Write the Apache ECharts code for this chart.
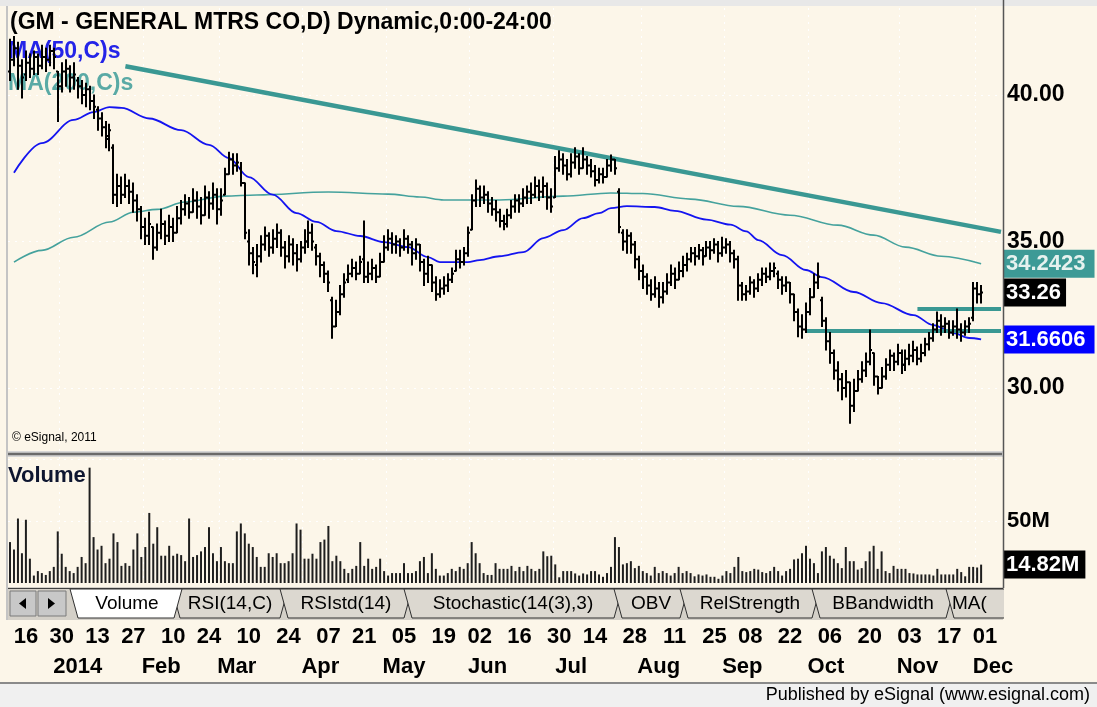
<!DOCTYPE html>
<html>
<head>
<meta charset="utf-8">
<script src="https://cdn.jsdelivr.net/npm/echarts@6/dist/echarts.min.js"></script>
<style>
  html, body { margin: 0; padding: 0; background: #fcf6e9; }
  #chart { width: 1097px; height: 707px; }
</style>
</head>
<body>
<div id="chart"></div>
<script>
// trading days Dec 10 2013 .. Dec 5 2014, exchange holidays skipped
const holidays = ['2013-12-25', '2014-01-01', '2014-01-20', '2014-02-17', '2014-04-18',
  '2014-05-26', '2014-07-04', '2014-09-01', '2014-11-27'];
const monthNames = ['2014', 'Feb', 'Mar', 'Apr', 'May', 'Jun', 'Jul', 'Aug', 'Sep', 'Oct', 'Nov', 'Dec'];

// daily bars
const opens = [40.8,41.2,41.6,41.0,40.7,41.1,40.9,41.3,41.0,41.3,
  41.2,41.5,40.8,40.3,40.8,40.9,40.6,40.5,40.3,40.0,
  40.2,39.8,39.5,39.2,38.9,38.5,38.2,36.6,36.9,36.6,
  36.9,36.7,36.4,36.1,35.5,35.2,35.5,34.8,35.3,35.6,
  35.2,35.5,35.3,35.8,36.1,36.3,36.0,36.4,36.2,35.9,
  36.5,36.3,36.6,36.1,36.6,37.3,37.8,37.6,37.5,37.0,
  35.0,34.6,34.2,34.5,34.9,35.2,34.8,35.1,35.3,34.8,
  34.5,34.9,34.6,34.4,34.8,35.0,35.3,34.8,34.5,34.2,
  33.9,33.0,32.1,32.6,33.2,33.7,33.9,34.1,33.9,34.4,
  33.8,33.9,34.1,33.8,34.3,34.8,35.1,34.9,35.0,34.8,
  35.1,34.9,34.6,34.9,34.3,33.9,34.2,33.6,33.2,33.4,
  33.5,33.7,34.0,34.4,34.3,34.6,35.4,36.4,36.8,36.5,
  36.6,36.3,36.1,36.0,35.7,35.6,35.9,36.2,36.4,36.3,
  36.5,36.7,36.6,36.9,36.7,36.9,36.5,36.5,37.5,37.8,
  37.6,37.3,37.7,37.9,37.5,37.8,37.6,37.4,37.1,37.3,
  37.2,37.6,37.8,36.7,35.3,35.0,35.2,34.9,34.4,34.0,
  33.8,33.5,33.2,33.4,33.1,33.3,33.6,33.9,33.7,34.0,
  34.2,34.4,34.6,34.5,34.7,34.5,34.8,34.7,34.9,34.6,
  34.8,34.9,34.6,34.4,33.5,33.2,33.3,33.6,33.4,33.7,
  33.9,33.8,34.0,33.9,33.7,33.5,33.6,33.2,32.6,32.1,
  32.0,32.6,33.1,33.6,33.0,32.3,31.6,31.2,30.6,30.3,
  30.0,30.2,29.4,29.9,30.3,30.6,30.9,31.2,30.4,30.0,
  30.4,30.8,31.1,30.9,31.2,30.8,31.0,31.1,31.3,31.0,
  31.2,31.5,31.7,32.0,32.3,32.1,32.2,31.9,32.1,32.0,
  31.9,32.1,32.4,33.4,33.2];
const highs = [41.9,42.0,41.8,41.2,41.5,41.4,41.5,41.4,41.7,41.6,
  41.7,41.6,40.8,41.1,41.2,41.0,41.1,40.6,40.5,40.4,
  40.3,40.0,39.6,39.4,39.1,39.0,38.3,37.3,37.2,37.3,
  37.1,37.0,36.6,36.2,35.8,36.0,35.5,35.6,36.1,35.7,
  35.9,35.8,36.2,36.4,36.6,36.5,36.8,36.7,36.5,36.9,
  36.7,37.0,36.8,36.8,37.5,38.05,38.0,38.0,37.7,37.0,
  35.4,34.8,34.9,35.2,35.5,35.3,35.4,35.6,35.4,35.0,
  35.2,35.1,34.9,35.0,35.4,35.7,35.6,34.9,34.6,34.3,
  34.0,33.1,33.0,33.5,33.9,34.2,34.4,34.3,34.5,35.7,
  34.3,34.4,34.2,34.6,35.2,35.4,35.3,35.2,35.1,35.4,
  35.2,35.0,35.1,34.9,34.4,34.5,34.2,33.8,33.7,33.8,
  33.9,34.1,34.7,34.7,34.8,35.5,36.6,37.1,36.9,36.9,
  36.7,36.5,36.4,36.1,35.9,36.1,36.4,36.6,36.6,36.8,
  36.9,37.0,37.2,37.1,37.2,37.0,36.8,37.9,38.1,38.0,
  37.8,38.0,38.2,38.0,38.2,37.9,37.8,37.6,37.5,37.5,
  37.8,37.95,37.8,36.8,35.4,35.4,35.3,35.0,34.5,34.2,
  33.9,33.7,33.8,33.6,33.6,33.9,34.2,34.1,34.3,34.5,
  34.6,34.8,34.8,34.9,34.8,35.0,35.0,35.1,35.0,35.15,
  35.1,35.0,34.7,34.5,33.6,33.5,33.8,33.7,33.9,34.1,
  34.1,34.27,34.27,34.0,33.8,33.8,33.6,33.2,32.7,32.5,
  32.9,33.4,33.9,34.27,33.1,32.4,31.9,31.3,30.9,30.5,
  30.6,30.2,30.3,30.6,30.9,31.2,31.98,31.2,30.4,30.7,
  31.0,31.3,31.2,31.5,31.3,31.3,31.5,31.6,31.4,31.5,
  31.7,31.9,32.2,32.6,32.5,32.4,32.3,32.3,32.7,32.2,
  32.3,32.4,33.6,33.6,33.5];
const lows = [40.5,41.0,40.2,39.9,40.5,40.6,40.7,40.7,40.9,40.8,
  41.0,40.9,39.1,40.1,40.3,40.1,40.2,39.9,39.7,39.6,
  39.5,39.2,38.8,38.6,38.2,38.1,36.3,36.2,36.3,36.5,
  36.3,36.0,35.7,35.1,34.9,34.9,34.4,34.7,35.1,34.9,
  35.0,35.0,35.3,35.6,35.9,35.8,36.0,35.8,35.6,35.9,
  35.8,36.1,35.6,35.9,36.6,37.3,37.3,37.4,36.9,35.1,
  34.2,33.9,33.8,34.3,34.7,34.5,34.6,34.8,34.5,34.1,
  34.3,34.2,34.0,34.3,34.6,34.8,34.7,34.2,33.8,33.6,
  33.3,31.7,32.1,32.5,33.1,33.6,33.8,33.7,33.9,33.6,
  33.6,33.7,33.6,33.8,34.3,34.7,34.6,34.6,34.5,34.7,
  34.6,34.2,34.4,34.0,33.5,33.6,33.3,33.0,33.1,33.2,
  33.3,33.6,34.0,34.1,34.2,34.5,35.4,36.2,36.2,36.3,
  36.0,35.9,35.7,35.5,35.4,35.5,35.8,36.0,36.0,36.2,
  36.3,36.3,36.5,36.4,36.5,36.1,36.0,36.5,37.4,37.3,
  37.1,37.2,37.5,37.3,37.5,37.3,37.2,36.9,37.0,37.0,
  37.2,37.4,37.3,35.3,34.7,34.6,34.6,34.1,33.7,33.4,
  33.2,33.0,33.1,32.76,32.9,33.2,33.5,33.4,33.7,33.8,
  34.0,34.3,34.2,34.4,34.2,34.5,34.4,34.6,34.3,34.5,
  34.6,34.3,34.1,33.0,33.0,33.0,33.2,33.1,33.3,33.5,
  33.6,33.7,33.8,33.4,33.2,33.3,32.9,32.3,31.75,31.7,
  31.9,32.5,33.1,33.4,32.1,31.3,30.85,30.3,29.9,29.6,
  29.7,28.8,29.2,29.9,30.2,30.4,30.8,30.1,29.8,30.0,
  30.3,30.6,30.6,30.8,30.5,30.6,30.8,30.9,30.8,30.9,
  31.1,31.3,31.6,31.9,31.8,31.9,31.7,31.8,31.7,31.6,
  31.8,31.9,32.3,32.9,32.9];
const closes = [41.2,41.6,41.0,40.6,41.1,40.9,41.3,41.0,41.3,41.2,
  41.5,41.3,40.3,40.8,40.9,40.6,40.7,40.3,40.0,40.2,
  39.8,39.6,39.2,38.9,38.6,38.8,36.6,36.9,36.6,36.9,
  36.7,36.4,36.1,35.5,35.2,35.6,34.8,35.3,35.6,35.2,
  35.5,35.3,35.8,36.1,36.3,36.0,36.4,36.2,35.9,36.5,
  36.3,36.6,36.1,36.4,37.3,37.8,37.6,37.7,37.0,35.3,
  34.6,34.3,34.5,34.9,35.2,34.8,35.1,35.3,34.8,34.5,
  34.9,34.6,34.4,34.8,35.0,35.3,35.0,34.5,34.2,33.9,
  33.6,32.1,32.6,33.2,33.6,33.9,34.1,33.9,34.3,33.8,
  33.9,34.1,33.8,34.3,34.8,35.1,34.9,35.0,34.8,35.1,
  34.9,34.6,34.9,34.3,33.9,34.2,33.6,33.2,33.4,33.5,
  33.7,33.9,34.4,34.3,34.6,35.3,36.4,36.8,36.5,36.6,
  36.3,36.1,36.0,35.7,35.6,35.9,36.2,36.4,36.3,36.5,
  36.7,36.6,36.9,36.7,36.9,36.5,36.2,37.5,37.8,37.6,
  37.3,37.7,37.9,37.5,37.8,37.6,37.4,37.1,37.3,37.2,
  37.6,37.8,37.5,35.5,35.0,35.2,34.9,34.4,34.0,33.8,
  33.5,33.2,33.4,33.1,33.3,33.6,33.9,33.7,34.0,34.2,
  34.4,34.6,34.5,34.7,34.5,34.8,34.7,34.9,34.6,34.8,
  34.9,34.6,34.4,33.5,33.2,33.3,33.6,33.4,33.7,33.9,
  33.8,34.0,34.1,33.7,33.5,33.6,33.2,32.6,32.1,32.0,
  32.6,33.1,33.6,33.8,32.3,31.6,31.2,30.6,30.3,30.0,
  30.2,29.4,29.9,30.3,30.6,30.9,31.3,30.4,30.0,30.4,
  30.8,31.1,30.9,31.2,30.8,31.0,31.1,31.3,31.0,31.2,
  31.5,31.7,32.0,32.3,32.1,32.2,31.9,32.1,32.0,31.9,
  32.1,32.2,33.4,33.2,33.26];
// volume, millions of shares
const volumes = [33,27,52,24,51,19.6,6,9.6,8,6.5,
  9.6,13,41.6,23.6,13,9.6,8,13,21,16,
  93,37,27,30,16,19.6,40,33,13.8,16,
  13.8,27,40,21,29,56.5,31.7,45,22,22,
  30,22,23.6,22.5,17.6,52,21,22.5,25.5,29,
  45,24,17.6,29,17.6,16,16,41.6,48,40,
  31.7,29,21,13,13,24,21,24,16,16,
  17.6,24,48,43,19.6,19.6,23.6,19.6,33,35,
  46,17.6,22,17.6,11.4,8,11.4,13.8,33,13.8,
  19.6,11.4,13,19.6,9.6,6,8,8,8,16,
  8,8,9.6,17.6,21,8,24,11.4,6,6,
  8,11.4,9.6,13,11.4,16,33,24,16,8,
  6.5,6.5,16,11.4,11.4,11.4,13.8,9.6,13,9.6,
  13.8,11.4,9.6,11.4,25.5,21.6,22,15,4.6,9.6,
  9.6,9.6,7.7,6,7.7,6.9,9.6,9.6,6.9,5,
  8,13,37,29,15,16,17.6,12,13.8,9.6,
  8,6,13,8,9.6,8,6,8,13,8,
  9.6,8,5.4,6.9,6,6.9,5,5,3.4,6,
  9.6,8,13,21,9.6,8.8,9.6,11.4,10.8,8.8,
  8,9.6,13,9.6,6,9.6,11.4,19,19.6,24,
  30,19.6,16,8,25.5,29,22,19.6,16,12,
  29,17.6,17.6,10.8,12,17.6,25.5,30,11.4,25.5,
  9.6,8,13.8,11.4,11.4,11.4,8,7.7,6.9,6.9,
  6.9,6.9,6,11.4,6.9,6.9,6.9,6.9,11.4,8.8,
  5.4,13,13,12.5,14.82];

// moving averages as drawn: [bar index, value]
const ma50 = [[1,37.35],[8,38.36],[16,39.15],[21,39.42],[25,39.59],[28,39.56],[35,39.2],[43,38.8],
  [50,38.3],[55,37.85],[60,37.2],[66,36.6],[72,35.97],[77,35.67],[82,35.36],[88,35.19],[94,34.98],
  [100,34.81],[105,34.47],[108,34.3],[115,34.3],[118,34.37],[123,34.5],[129,34.64],[134,35.12],
  [139,35.39],[144,35.8],[148,35.97],[151,36.14],[155,36.21],[162,36.18],[167,36.05],[175,35.75],
  [181,35.58],[185,35.35],[188,35.05],[194,34.54],[200,34.03],[204,33.79],[212,33.28],[219,32.9],
  [227,32.49],[232,32.15],[237,31.88],[241,31.71],[244,31.6606]];
const ma200 = [[1,34.3],[8,34.7],[16,35.15],[25,35.67],[31,36.0],[37,36.1],[44,36.35],[54,36.55],
  [62,36.59],[80,36.69],[95,36.62],[103,36.52],[109,36.42],[123,36.42],[139,36.55],[151,36.66],
  [159,36.64],[171,36.45],[183,36.2],[196,35.9],[208,35.56],[217,35.22],[225,34.81],[234,34.5],
  [244,34.2423]];
// drawn trend lines
const trendDown = [[29, 40.98], [249, 35.33]];
const supportLow = [[200, 31.95], [249, 31.95]];
const supportHigh = [[228, 32.70], [249, 32.70]];

const priceLabels = [30, 35, 40];
const volumeTicks = [50, 100];
const volumeLabels = [50];
const lastClose = 33.26, lastMa200 = 34.2423, lastMa50 = 31.6606, lastVolume = 14.82;

const FONT = '"Liberation Sans", Arial, sans-serif';

const dates = [];
for (let d = new Date(Date.UTC(2013, 11, 10)); d <= new Date(Date.UTC(2014, 11, 5)); d.setUTCDate(d.getUTCDate() + 1)) {
  const wd = d.getUTCDay();
  const s = d.toISOString().slice(0, 10);
  if (wd > 0 && wd < 6 && holidays.indexOf(s) < 0) dates.push(s);
}
const dayLabelIdx = {}, monthLabelIdx = {}, monthLineIdx = {};
const base = Date.UTC(2013, 11, 16);
dates.forEach((s, i) => {
  const t = Date.UTC(+s.slice(0, 4), +s.slice(5, 7) - 1, +s.slice(8, 10));
  const days = Math.round((t - base) / 86400000);
  if (days >= 0 && days % 14 === 0) dayLabelIdx[i] = true;
  if (i > 0 && s.slice(5, 7) !== dates[i - 1].slice(5, 7)) {
    monthLineIdx[i - 2] = true;
    monthLabelIdx[i + 2] = monthNames[+s.slice(5, 7) - 1];
  }
});

const bars = closes.map((c, i) => [i, opens[i], highs[i], lows[i], c]);

function renderBar(params, api) {
  const i = api.value(0);
  const hi = api.coord([i, api.value(2)]);
  const lo = api.coord([i, api.value(3)]);
  const op = api.coord([i, api.value(1)]);
  const cl = api.coord([i, api.value(4)]);
  const x = Math.round(hi[0]);
  const st = { stroke: '#000', lineWidth: 2 };
  return {
    type: 'group',
    children: [
      { type: 'line', shape: { x1: x, y1: hi[1] - 0.5, x2: x, y2: lo[1] + 0.5 }, style: st },
      { type: 'line', shape: { x1: x - 2, y1: op[1], x2: x, y2: op[1] }, style: st },
      { type: 'line', shape: { x1: x, y1: cl[1], x2: x + 2, y2: cl[1] }, style: st }
    ]
  };
}

// value tag at the right edge, hung on an invisible mark line
function tag(value, text, bg, fg, padRight) {
  return {
    silent: true, symbol: 'none', animation: false,
    lineStyle: { color: 'rgba(0,0,0,0)', width: 0.01 },
    label: {
      show: true, position: 'end', distance: 0, formatter: text,
      backgroundColor: bg, color: fg, padding: [3, padRight, 1, 3],
      fontSize: 22, fontWeight: 'bold', fontFamily: FONT, lineHeight: 24
    },
    emphasis: { disabled: true },
    data: [{ yAxis: value }]
  };
}

const dotted = { color: '#ffffff', width: 1, type: [2, 5] };

// tab strip below the volume pane
const tabs = [
  ['RSI(14,C)', 172, 288], ['RSIstd(14)', 280, 412], ['Stochastic(14(3),3)', 404, 622],
  ['OBV', 614, 688], ['RelStrength', 680, 820], ['BBandwidth', 812, 954], ['MA(', 946, 1040]
];
const tabGraphics = [];
tabs.forEach(t => {
  tabGraphics.push({
    type: 'polygon', shape: { points: [[t[1], 589], [t[2], 589], [t[2] - 8, 618], [t[1] + 8, 618]] },
    style: { fill: '#dcd8d0', stroke: '#303030', lineWidth: 1 }
  });
  tabGraphics.push({
    type: 'text', x: t[0] === 'MA(' ? 952 : (t[1] + t[2]) / 2, y: 604,
    style: { text: t[0], font: '19px ' + FONT, fill: '#000',
      align: t[0] === 'MA(' ? 'left' : 'center', verticalAlign: 'middle' }
  });
});

const chart = echarts.init(document.getElementById('chart'), null, { renderer: 'canvas' });
chart.setOption({
  animation: false,
  backgroundColor: '#fcf6e9',
  grid: [
    { left: 8, right: 94, top: 8, height: 444, containLabel: false, outerBoundsMode: 'none' },
    { left: 8, right: 94, top: 457, height: 126, containLabel: false, outerBoundsMode: 'none' }
  ],
  xAxis: [
    {
      type: 'category', gridIndex: 0, data: dates, boundaryGap: true,
      axisLine: { show: false }, axisTick: { show: false }, axisLabel: { show: false },
      splitLine: { show: true, interval: (i) => !!monthLineIdx[i], lineStyle: dotted }
    },
    {
      type: 'category', gridIndex: 1, data: dates, boundaryGap: true, position: 'bottom',
      axisLine: { show: false }, axisTick: { show: false },
      axisLabel: {
        interval: (i) => !!dayLabelIdx[i], formatter: (v) => v.slice(8),
        margin: 43, color: '#000', fontSize: 22, fontWeight: 'bold', fontFamily: FONT
      },
      splitLine: { show: true, interval: (i) => !!monthLineIdx[i], lineStyle: dotted }
    },
    {
      type: 'category', gridIndex: 1, data: dates, boundaryGap: true, position: 'bottom', offset: 30,
      axisLine: { show: false }, axisTick: { show: false },
      axisLabel: {
        interval: (i) => !!monthLabelIdx[i], formatter: (v, i) => monthLabelIdx[i] || '',
        margin: 43, color: '#000', fontSize: 22, fontWeight: 'bold', fontFamily: FONT
      },
      splitLine: { show: false }
    }
  ],
  yAxis: [
    {
      type: 'value', gridIndex: 0, position: 'right', min: 27.82, max: 42.97,
      axisLine: { show: false },
      axisTick: { show: false, customValues: priceLabels },
      axisLabel: {
        customValues: priceLabels, formatter: (v) => v.toFixed(2), margin: 4,
        color: '#000', fontSize: 23, fontWeight: 'bold', fontFamily: FONT
      },
      splitLine: { show: true, lineStyle: dotted }
    },
    {
      type: 'value', gridIndex: 1, position: 'right', min: 0, max: 101.6,
      axisLine: { show: false },
      axisTick: { show: false, customValues: volumeTicks },
      axisLabel: {
        customValues: volumeLabels, formatter: (v) => v + 'M', margin: 4,
        color: '#000', fontSize: 22, fontWeight: 'bold', fontFamily: FONT
      },
      splitLine: { show: true, lineStyle: dotted }
    }
  ],
  series: [
    {
      name: 'MA200', type: 'line', xAxisIndex: 0, yAxisIndex: 0, data: ma200,
      smooth: 0.35, smoothMonotone: 'x', showSymbol: false, z: 2,
      lineStyle: { color: '#45a29d', width: 1.6 },
      markLine: tag(lastMa200, '34.2423', '#3d9a96', '#e6f2ef', 9)
    },
    {
      name: 'MA50', type: 'line', xAxisIndex: 0, yAxisIndex: 0, data: ma50,
      smooth: 0.35, smoothMonotone: 'x', showSymbol: false, z: 2,
      lineStyle: { color: '#1414f0', width: 1.8 },
      markLine: tag(lastMa50, '31.6606', '#0000ff', '#ffffff', 9)
    },
    {
      name: 'trend', type: 'line', xAxisIndex: 0, yAxisIndex: 0, data: trendDown,
      showSymbol: false, z: 2, lineStyle: { color: '#3a9893', width: 4.5 }
    },
    {
      name: 'support', type: 'line', xAxisIndex: 0, yAxisIndex: 0, data: supportLow,
      showSymbol: false, z: 2, lineStyle: { color: '#3a9893', width: 4 }
    },
    {
      name: 'resistance', type: 'line', xAxisIndex: 0, yAxisIndex: 0, data: supportHigh,
      showSymbol: false, z: 2, lineStyle: { color: '#3a9893', width: 4 }
    },
    {
      name: 'GM', type: 'custom', xAxisIndex: 0, yAxisIndex: 0, data: bars,
      renderItem: renderBar, encode: { x: 0, y: [1, 2, 3, 4] }, clip: true, z: 3,
      markLine: tag(lastClose, '33.26', '#000000', '#ffffff', 5)
    },
    {
      name: 'Volume', type: 'bar', xAxisIndex: 1, yAxisIndex: 1, data: volumes,
      barWidth: 2, itemStyle: { color: '#1e1e1e' }, z: 2,
      markLine: tag(lastVolume, '14.82M', '#000000', '#ffffff', 6)
    }
  ],
  graphic: [
    { type: 'rect', z: -10, shape: { x: 0, y: 0, width: 1097, height: 6 }, style: { fill: '#e8e8e8' } },
    { type: 'line', shape: { x1: 7, y1: 6, x2: 7, y2: 620 }, style: { stroke: '#c4c4c4', lineWidth: 2 } },
    { type: 'rect', shape: { x: 8, y: 451, width: 995, height: 6 }, style: { fill: '#d6d6d6' } },
    { type: 'line', shape: { x1: 8, y1: 454, x2: 1002, y2: 454 }, style: { stroke: '#6a6a6a', lineWidth: 2.5 } },
    { type: 'text', z: 50, x: 10, y: 11, style: { text: '(GM - GENERAL MTRS CO,D) Dynamic,0:00-24:00', font: 'bold 23px ' + FONT, fill: '#000' } },
    { type: 'text', z: 1, x: 8, y: 40, style: { text: 'MA(50,C)s', font: 'bold 23px ' + FONT, fill: '#2424e8' } },
    { type: 'text', z: 1, x: 8, y: 72, style: { text: 'MA(200,C)s', font: 'bold 23px ' + FONT, fill: '#5aaaa5' } },
    { type: 'text', z: 50, x: 12, y: 432, style: { text: '© eSignal, 2011', font: '12px ' + FONT, fill: '#000' } },
    { type: 'text', z: 50, x: 8, y: 465, style: { text: 'Volume', font: 'bold 22px ' + FONT, fill: '#0e1630' } },
    // tab strip
    { type: 'rect', shape: { x: 8, y: 587, width: 995, height: 33 }, style: { fill: '#d4d0c8' } },
    { type: 'line', shape: { x1: 8, y1: 588.5, x2: 1003, y2: 588.5 }, style: { stroke: '#404040', lineWidth: 1 } },
    { type: 'rect', shape: { x: 10, y: 591, width: 26, height: 25 }, style: { fill: '#c8c8c8', stroke: '#7a7a7a', lineWidth: 1 } },
    { type: 'rect', shape: { x: 38, y: 591, width: 28, height: 25 }, style: { fill: '#c8c8c8', stroke: '#7a7a7a', lineWidth: 1 } },
    { type: 'polygon', shape: { points: [[19, 603.5], [26, 598], [26, 609]] }, style: { fill: '#000' } },
    { type: 'polygon', shape: { points: [[55, 603.5], [48, 598], [48, 609]] }, style: { fill: '#000' } },
    ...tabGraphics,
    { type: 'polygon', shape: { points: [[70, 589], [182, 589], [174, 618], [78, 618]] }, style: { fill: '#ffffff', stroke: '#303030', lineWidth: 1 } },
    { type: 'text', x: 127, y: 604, style: { text: 'Volume', font: '19px ' + FONT, fill: '#000', align: 'center', verticalAlign: 'middle' } },
    { type: 'rect', shape: { x: 1004, y: 586, width: 93, height: 40 }, style: { fill: '#fcf6e9' } },
    // right axis line, above the grid lines
    { type: 'line', z: 100, shape: { x1: 1003.5, y1: 0, x2: 1003.5, y2: 588 }, style: { stroke: '#555', lineWidth: 1.5 } },
    // footer
    { type: 'rect', shape: { x: 0, y: 683, width: 1097, height: 24 }, style: { fill: '#f0f0f0' } },
    { type: 'line', shape: { x1: 0, y1: 683, x2: 1097, y2: 683 }, style: { stroke: '#8a8a8a', lineWidth: 2 } },
    { type: 'text', x: 1090, y: 695, style: { text: 'Published by eSignal (www.esignal.com)', font: '18px ' + FONT, fill: '#000', align: 'right', verticalAlign: 'middle' } }
  ]
});
</script>
</body>
</html>
